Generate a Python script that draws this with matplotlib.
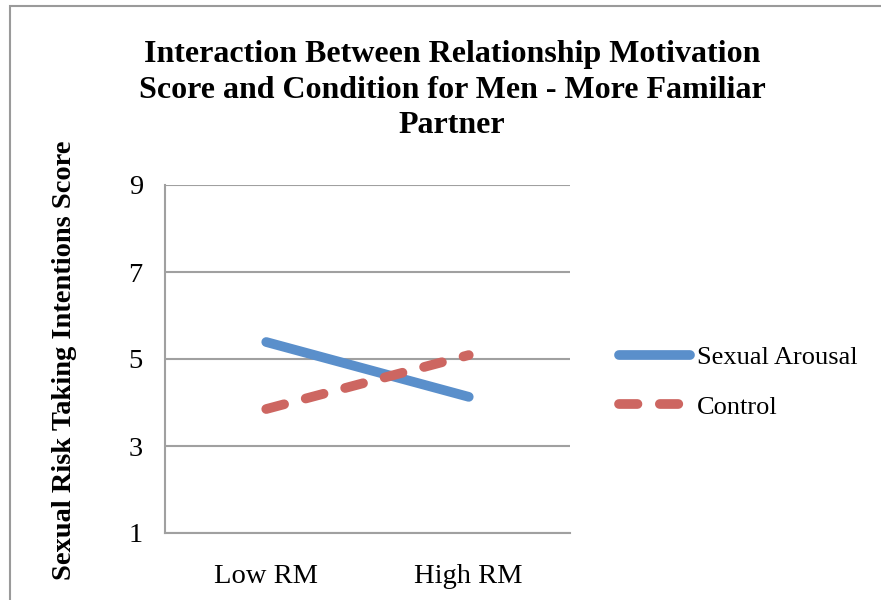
import matplotlib.pyplot as plt
from matplotlib.patches import Rectangle

# data
categories = ['Low RM', 'High RM']
sexual_arousal = [5.39, 4.13]
control = [3.85, 5.09]
y_ticks = [1, 3, 5, 7, 9]

plt.rcParams['font.family'] = ['Liberation Serif', 'DejaVu Serif']

fig = plt.figure(figsize=(8.81, 6.00), dpi=100)
W, H = 881, 600

# outer chart border (cut off at right and bottom)
fig.patches.append(Rectangle((10 / W, -0.05), 1.0, (H - 6) / H + 0.05,
                             transform=fig.transFigure, fill=False,
                             edgecolor='#9a9a9a', linewidth=1.5))

ax = fig.add_axes([165 / W, 1 - 533 / H, (570 - 165) / W, (533 - 185) / H])

x = range(len(categories))
ax.plot(x, sexual_arousal, color='#5A8FCB', linewidth=7,
        solid_capstyle='round', label='Sexual Arousal')
ax.plot(x, control, color='#CD6661', linewidth=7, dashes=(1.9, 2.3),
        dash_capstyle='round', label='Control')

ax.set_xlim(-0.5, 1.5)
ax.set_ylim(1, 9)
ax.set_yticks(y_ticks)
ax.set_xticks(list(x))
ax.set_xticklabels(categories)
ax.tick_params(axis='both', length=0, labelsize=20.5, colors='black')
ax.tick_params(axis='y', pad=16)
ax.tick_params(axis='x', pad=22)
ax.grid(axis='y', color='#a0a0a0', linewidth=1.5)
ax.set_axisbelow(True)
for side in ['top', 'right']:
    ax.spines[side].set_visible(False)
for side in ['left', 'bottom']:
    ax.spines[side].set_color('#a0a0a0')
    ax.spines[side].set_linewidth(1.5)

fig.text(452 / W, 1 - 90 / H,
         'Interaction Between Relationship Motivation\n'
         'Score and Condition for Men - More Familiar\nPartner',
         ha='center', va='center', fontsize=23, fontweight='bold',
         linespacing=1.3)

fig.text(65 / W, 1 - 360 / H, 'Sexual Risk Taking Intentions Score',
         rotation=90, ha='center', va='center', fontsize=20.5, fontweight='bold')

ax.legend(loc='center left', bbox_to_anchor=(606 / W, 1 - 382 / H),
          bbox_transform=fig.transFigure, frameon=False, fontsize=19,
          handlelength=2.7, handletextpad=0.25, labelspacing=1.0,
          borderpad=0)

fig.savefig('out.png', dpi=100)
